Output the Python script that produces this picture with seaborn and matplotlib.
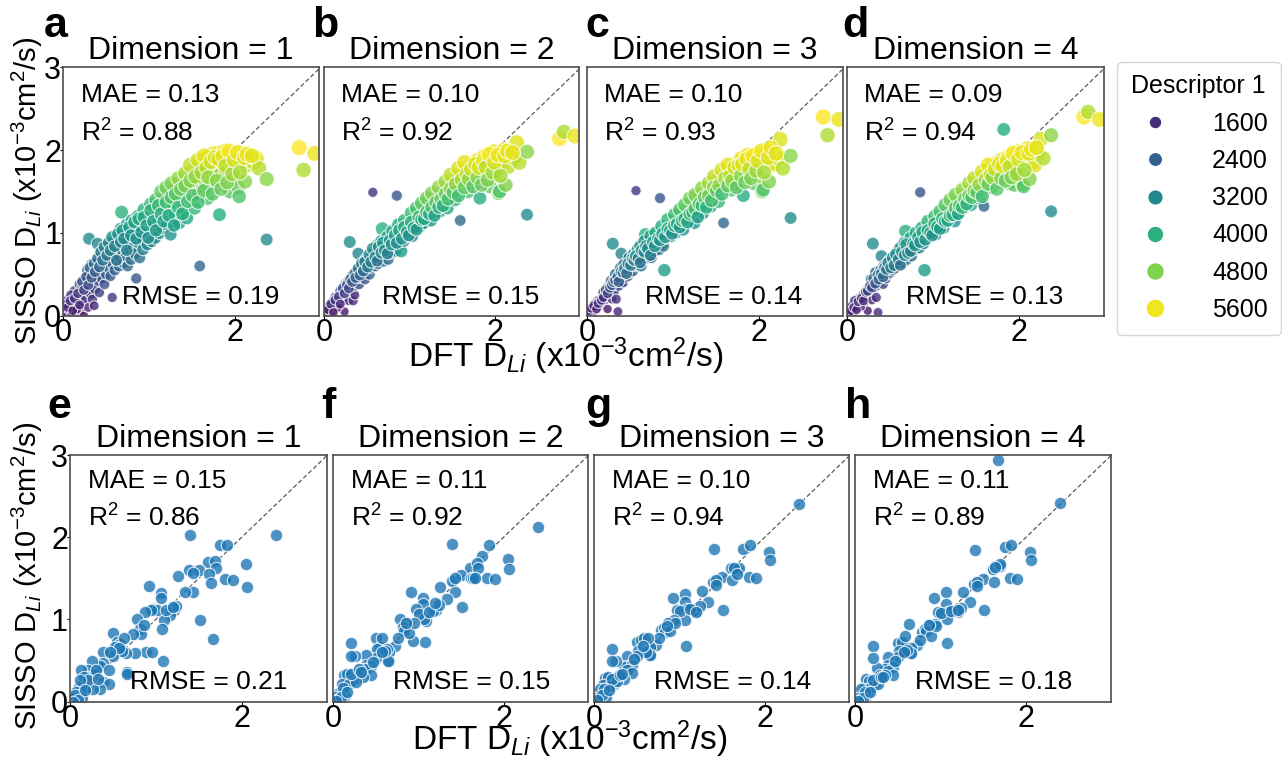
import numpy as np
import pandas as pd
import matplotlib
matplotlib.use("Agg")
import matplotlib.pyplot as plt
import seaborn as sns
from matplotlib.lines import Line2D

# ---------------- data: training set (top row) ----------------
dft_train = [0.02, 0.04, 0.05, 0.07, 0.08, 0.10, 0.11, 0.12, 0.14, 0.15, 0.17, 0.18, 0.20, 0.21, 0.23,
             0.24, 0.26, 0.27, 0.29, 0.30, 0.31, 0.32, 0.34, 0.36, 0.35, 0.37, 0.38, 0.40, 0.41, 0.42,
             0.44, 0.45, 0.47, 0.48, 0.50, 0.51, 0.53, 0.55, 0.56, 0.57, 0.58, 0.60, 0.61, 0.63, 0.64,
             0.65, 0.66, 0.68, 0.69, 0.70, 0.72, 0.73, 0.75, 0.76, 0.78, 0.79, 0.81, 0.82, 0.84, 0.85,
             0.86, 0.88, 0.89, 0.90, 0.92, 0.93, 0.95, 0.96, 0.98, 1.00, 1.01, 1.03, 1.04, 1.06, 1.07,
             1.09, 1.10, 1.12, 1.13, 1.15, 1.16, 1.18, 1.19, 1.21, 1.22, 1.24, 1.25, 1.27, 1.28, 1.30,
             1.32, 1.33, 1.35, 1.36, 1.38, 1.40, 1.41, 1.43, 1.44, 1.46, 1.47, 1.49, 1.50, 1.52, 1.53,
             1.55, 1.56, 1.58, 1.59, 1.60, 1.62, 1.63, 1.65, 1.66, 1.68, 1.70, 1.71, 1.73, 1.75, 1.76,
             1.78, 1.80, 1.82, 1.83, 1.85, 1.87, 1.88, 1.90, 1.92, 1.94, 1.96, 1.98, 2.00, 2.02, 2.04,
             2.05, 2.08, 2.10, 2.12, 2.15, 2.18, 2.22, 2.25, 2.28, 2.37, 2.37, 2.75, 2.80, 2.93,
             0.13, 0.19, 0.25, 0.28, 0.33, 0.39, 0.43, 0.49, 0.54, 0.59, 0.62, 0.67, 0.74, 0.80, 0.87,
             0.94, 1.02, 1.08, 1.14, 1.20, 1.26, 1.34, 1.42, 1.48, 1.57, 1.64, 0.06, 0.09, 0.16, 0.22, 0.03,
             0.05, 0.08, 0.11, 0.13, 0.17, 0.19, 0.22, 0.24, 0.27, 0.29, 0.31, 0.33, 0.36, 0.37, 0.40,
             0.42, 0.44, 0.46, 0.48, 0.51, 0.53, 0.55, 0.57, 0.60, 0.62, 0.64, 0.67, 0.69, 0.71, 0.74,
             0.77, 0.79, 0.83, 0.85, 0.88, 0.91, 0.94, 0.97, 0.99, 1.02, 1.05, 1.08, 1.11, 1.14, 1.17,
             1.20, 1.23, 1.26, 1.29, 1.31, 1.34, 1.37, 1.39, 1.42, 1.45, 1.48, 1.51, 1.54, 1.57, 1.61,
             1.64, 1.67, 1.69, 1.72, 1.74, 1.77, 1.79, 1.81, 1.84, 1.86, 1.89, 1.91, 1.93, 1.97, 1.99,
             2.03, 2.06, 2.11, 2.14, 2.20]

sisso_dim1 = [0.03, 0.08, 0.00, 0.12, 0.05, 0.02, 0.14, 0.08, 0.18, 0.03, 0.12, 0.22, 0.06, 0.16, 0.25,
              0.00, 0.20, 0.30, 0.10, 0.93, 0.35, 0.26, 0.20, 0.12, 0.40, 0.32, 0.50, 0.87, 0.42, 0.28,
              0.55, 0.45, 0.62, 0.38, 0.50, 0.66, 0.58, 0.48, 0.70, 0.22, 0.62, 0.55, 0.75, 0.66, 0.82,
              0.60, 0.70, 1.25, 0.78, 0.64, 0.86, 0.72, 0.60, 0.90, 0.80, 0.68, 0.96, 0.84, 0.75, 0.45,
              1.02, 0.88, 0.70, 1.08, 0.93, 0.80, 1.12, 0.98, 0.86, 1.16, 1.02, 0.90, 1.22, 1.06, 0.94,
              1.30, 1.12, 1.00, 1.36, 1.18, 1.06, 1.42, 1.24, 1.10, 1.48, 1.30, 0.98, 1.52, 1.36, 1.20,
              1.55, 1.40, 1.12, 1.60, 1.46, 1.28, 1.65, 1.50, 1.18, 1.70, 1.56, 1.40, 1.75, 1.62, 1.30,
              1.80, 1.66, 1.48, 0.60, 1.84, 1.70, 1.55, 1.88, 1.60, 1.42, 1.92, 1.76, 1.64, 1.96, 1.55,
              1.80, 1.96, 1.22, 1.70, 1.86, 1.98, 1.58, 1.74, 1.94, 1.50, 1.85, 1.96, 1.66, 1.92, 1.55,
              1.44, 1.88, 1.96, 1.62, 1.82, 1.92, 1.85, 1.90, 1.78, 1.65, 0.92, 2.03, 1.76, 1.96,
              0.30, 0.38, 0.45, 0.55, 0.62, 0.65, 0.74, 0.78, 0.85, 0.92, 0.96, 1.05, 1.10, 1.15, 1.20,
              1.28, 1.35, 1.40, 1.50, 1.55, 1.60, 1.66, 1.72, 1.82, 1.88, 1.93, 0.20, 0.25, 0.08, 0.34, 0.14,
              0.10, 0.18, 0.06, 0.21, 0.27, 0.13, 0.41, 0.31, 0.47, 0.37, 0.58, 0.46, 0.63, 0.53, 0.69,
              0.59, 0.77, 0.67, 0.83, 0.73, 0.88, 0.79, 0.95, 0.84, 0.67, 0.99, 0.89, 1.03, 0.93, 0.79,
              1.07, 0.97, 1.13, 0.93, 1.17, 1.01, 1.19, 1.09, 0.94, 1.27, 1.14, 1.03, 1.33, 1.23, 1.14,
              1.37, 1.21, 1.43, 1.09, 1.47, 1.31, 1.53, 1.23, 1.57, 1.38, 1.63, 1.45, 1.68, 1.37, 1.73,
              1.51, 1.79, 1.67, 1.86, 1.47, 1.91, 1.63, 1.89, 1.53, 1.93, 1.81, 1.61, 1.99, 1.71, 1.88,
              1.97, 1.73, 1.91, 1.95, 1.93]

sisso_dim2 = [0.02, 0.05, 0.03, 0.08, 0.10, 0.06, 0.12, 0.15, 0.13, 0.09, 0.18, 0.16, 0.20, 0.24, 0.21,
              0.05, 0.28, 0.25, 0.18, 0.89, 0.31, 0.35, 0.18, 0.25, 0.36, 0.40, 0.42, 0.75, 0.38, 0.45,
              0.47, 0.50, 0.52, 0.44, 0.55, 0.60, 0.50, 0.58, 0.62, 1.49, 0.66, 0.60, 0.68, 0.63, 0.72,
              0.70, 0.75, 1.05, 0.66, 0.72, 0.78, 0.80, 0.68, 0.83, 0.76, 0.82, 0.88, 0.85, 0.78, 1.45,
              0.92, 0.95, 0.86, 0.78, 1.00, 0.90, 1.04, 0.96, 1.02, 1.08, 1.00, 0.96, 1.12, 1.10, 1.05,
              1.18, 1.14, 1.08, 1.22, 1.20, 1.12, 1.28, 1.24, 1.18, 1.32, 1.28, 1.15, 1.36, 1.30, 1.25,
              1.42, 1.35, 1.26, 1.46, 1.40, 1.36, 1.50, 1.45, 1.30, 1.55, 1.52, 1.44, 1.60, 1.56, 1.40,
              1.65, 1.62, 1.52, 1.15, 1.70, 1.66, 1.58, 1.76, 1.62, 1.50, 1.80, 1.72, 1.68, 1.85, 1.60,
              1.76, 1.88, 1.42, 1.72, 1.82, 1.92, 1.62, 1.76, 1.90, 1.56, 1.82, 1.98, 1.70, 1.90, 1.48,
              1.50, 1.86, 2.00, 1.58, 1.80, 1.95, 1.90, 2.09, 1.85, 1.98, 1.22, 2.14, 2.22, 2.17,
              0.22, 0.30, 0.38, 0.40, 0.48, 0.55, 0.60, 0.68, 0.70, 0.78, 0.85, 0.90, 0.95, 1.02, 1.10,
              1.15, 1.24, 1.30, 1.36, 1.42, 1.48, 1.55, 1.62, 1.70, 1.78, 1.85, 0.12, 0.16, 0.10, 0.30, 0.08,
              0.07, 0.14, 0.04, 0.19, 0.23, 0.14, 0.33, 0.27, 0.37, 0.33, 0.44, 0.41, 0.51, 0.46, 0.57,
              0.49, 0.63, 0.54, 0.65, 0.59, 0.74, 0.65, 0.81, 0.71, 0.66, 0.83, 0.76, 0.88, 0.79, 0.75,
              0.91, 0.86, 0.97, 0.88, 1.03, 0.93, 1.07, 1.01, 0.97, 1.13, 1.06, 1.04, 1.19, 1.16, 1.17,
              1.25, 1.23, 1.31, 1.21, 1.37, 1.31, 1.41, 1.33, 1.47, 1.41, 1.53, 1.49, 1.59, 1.45, 1.64,
              1.55, 1.71, 1.65, 1.77, 1.56, 1.83, 1.67, 1.79, 1.58, 1.87, 1.79, 1.64, 1.95, 1.73, 1.85,
              1.94, 1.69, 1.93, 1.99, 1.97]

sisso_dim3 = [0.01, 0.04, 0.02, 0.07, 0.06, 0.10, 0.11, 0.13, 0.16, 0.12, 0.15, 0.20, 0.18, 0.22, 0.24,
              0.08, 0.26, 0.29, 0.20, 0.87, 0.33, 0.30, 0.20, 0.05, 0.38, 0.36, 0.45, 0.75, 0.41, 0.40,
              0.50, 0.46, 0.55, 0.48, 0.52, 0.58, 0.54, 0.60, 0.64, 1.51, 0.62, 0.66, 0.70, 0.60, 0.74,
              0.68, 0.72, 0.98, 0.70, 0.76, 0.80, 0.74, 0.70, 0.85, 0.82, 0.78, 0.86, 0.90, 0.80, 1.42,
              0.94, 0.88, 0.84, 0.55, 0.98, 0.94, 1.03, 1.00, 0.96, 1.08, 1.05, 1.00, 1.12, 1.06, 1.10,
              1.16, 1.14, 1.04, 1.24, 1.18, 1.20, 1.26, 1.22, 1.16, 1.34, 1.30, 1.12, 1.36, 1.28, 1.30,
              1.40, 1.38, 1.24, 1.48, 1.36, 1.40, 1.52, 1.46, 1.32, 1.56, 1.50, 1.48, 1.62, 1.55, 1.38,
              1.66, 1.60, 1.56, 1.12, 1.72, 1.68, 1.60, 1.76, 1.64, 1.52, 1.80, 1.74, 1.70, 1.84, 1.58,
              1.78, 1.90, 1.45, 1.76, 1.86, 1.94, 1.66, 1.70, 1.92, 1.60, 1.84, 1.96, 1.68, 1.95, 1.50,
              1.52, 1.88, 1.98, 1.62, 1.84, 1.83, 1.90, 2.13, 1.78, 1.93, 1.18, 2.40, 2.18, 2.37,
              0.18, 0.28, 0.35, 0.42, 0.50, 0.58, 0.62, 0.70, 0.74, 0.80, 0.84, 0.90, 0.96, 1.00, 1.08,
              1.16, 1.22, 1.28, 1.34, 1.42, 1.46, 1.54, 1.60, 1.68, 1.76, 1.82, 0.10, 0.14, 0.16, 0.26, 0.06,
              0.09, 0.12, 0.08, 0.15, 0.19, 0.22, 0.31, 0.27, 0.34, 0.37, 0.41, 0.43, 0.47, 0.41, 0.53,
              0.52, 0.57, 0.51, 0.63, 0.61, 0.69, 0.67, 0.72, 0.69, 0.64, 0.79, 0.77, 0.84, 0.81, 0.73,
              0.89, 0.84, 0.93, 0.91, 0.99, 0.95, 1.05, 1.03, 0.99, 1.09, 1.11, 1.07, 1.15, 1.17, 1.13,
              1.23, 1.25, 1.29, 1.19, 1.35, 1.33, 1.43, 1.31, 1.45, 1.39, 1.55, 1.51, 1.57, 1.47, 1.66,
              1.57, 1.69, 1.63, 1.79, 1.55, 1.81, 1.69, 1.83, 1.61, 1.89, 1.77, 1.66, 1.93, 1.75, 1.87,
              1.99, 1.73, 1.91, 2.03, 1.96]

sisso_dim4 = [0.02, 0.05, 0.01, 0.09, 0.04, 0.08, 0.13, 0.10, 0.15, 0.14, 0.20, 0.17, 0.16, 0.22, 0.25,
              0.06, 0.27, 0.30, 0.19, 0.87, 0.32, 0.34, 0.22, 0.04, 0.37, 0.40, 0.43, 0.72, 0.42, 0.38,
              0.48, 0.45, 0.54, 0.50, 0.52, 0.60, 0.55, 0.57, 0.63, 0.62, 0.65, 0.62, 0.70, 0.66, 0.75,
              0.64, 0.72, 1.02, 0.68, 0.74, 0.79, 0.77, 0.72, 0.84, 0.80, 0.83, 0.88, 0.86, 0.82, 1.49,
              0.93, 0.92, 0.87, 0.55, 0.97, 0.96, 1.02, 0.99, 1.04, 1.07, 1.02, 0.98, 1.10, 1.08, 1.12,
              1.18, 1.13, 1.06, 1.22, 1.20, 1.16, 1.28, 1.24, 1.20, 1.30, 1.27, 1.14, 1.36, 1.32, 1.25,
              1.40, 1.36, 1.30, 1.45, 1.40, 1.38, 1.50, 1.48, 1.34, 1.55, 1.52, 1.46, 1.60, 1.57, 1.42,
              1.64, 1.62, 1.54, 1.32, 1.70, 1.66, 1.58, 1.75, 1.68, 1.55, 1.80, 1.72, 1.66, 1.85, 1.62,
              1.78, 1.88, 2.25, 1.74, 1.84, 1.92, 1.60, 1.72, 1.95, 1.58, 1.86, 1.98, 1.72, 1.94, 1.58,
              1.56, 1.90, 2.02, 1.65, 1.85, 1.82, 1.95, 2.13, 1.90, 2.18, 1.26, 2.40, 2.46, 2.37,
              0.20, 0.25, 0.33, 0.44, 0.52, 0.55, 0.60, 0.66, 0.72, 0.78, 0.82, 0.88, 0.94, 1.00, 1.06,
              1.14, 1.20, 1.26, 1.34, 1.40, 1.46, 1.52, 1.60, 1.66, 1.74, 1.82, 0.12, 0.18, 0.11, 0.28, 0.05,
              0.06, 0.10, 0.07, 0.17, 0.21, 0.18, 0.29, 0.30, 0.36, 0.34, 0.45, 0.39, 0.49, 0.44, 0.51,
              0.47, 0.58, 0.56, 0.64, 0.58, 0.70, 0.61, 0.74, 0.68, 0.61, 0.77, 0.73, 0.86, 0.76, 0.78,
              0.87, 0.85, 0.95, 0.89, 1.01, 0.92, 1.03, 1.00, 0.97, 1.11, 1.07, 1.05, 1.17, 1.14, 1.15,
              1.21, 1.22, 1.30, 1.23, 1.33, 1.31, 1.41, 1.35, 1.45, 1.43, 1.51, 1.49, 1.58, 1.44, 1.64,
              1.59, 1.70, 1.67, 1.77, 1.53, 1.83, 1.66, 1.81, 1.63, 1.87, 1.80, 1.67, 1.96, 1.71, 1.89,
              1.97, 1.76, 1.96, 2.01, 2.03]

descriptor_1 = [1320, 1430, 1250, 1510, 1360, 1290, 1560, 1430, 1650, 1320, 1510, 1730, 1380, 1600, 1800,
                1250, 1690, 1910, 1470, 3300, 2020, 1820, 1690, 1510, 2130, 1950, 2350, 3160, 2170, 1870,
                2460, 2240, 2610, 2090, 2350, 2700, 2530, 2310, 2790, 1730, 2610, 2460, 2900, 2700, 3050,
                2570, 2790, 4000, 2970, 2660, 3140, 2830, 2570, 3230, 3010, 2750, 3360, 3100, 2900, 2240,
                3490, 3190, 2790, 3630, 3300, 3010, 3710, 3410, 3140, 3800, 3490, 3230, 3930, 3580, 3320,
                4110, 3710, 3450, 4240, 3850, 3580, 4370, 3980, 3670, 4510, 4110, 3410, 4590, 4240, 3890,
                4660, 4330, 3710, 4770, 4460, 4070, 4880, 4550, 3850, 4990, 4680, 4330, 5100, 4810, 4110,
                5210, 4900, 4510, 2570, 5300, 4990, 4660, 5390, 4770, 4370, 5470, 5120, 4860, 5560, 4660,
                5210, 5560, 3930, 4990, 5340, 5610, 4730, 5080, 5520, 4550, 5320, 5560, 4900, 5470, 4660,
                4420, 5390, 5560, 4810, 5250, 5470, 5320, 5430, 5170, 4880, 3270, 5720, 5120, 5560,
                1910, 2090, 2240, 2460, 2610, 2680, 2880, 2970, 3120, 3270, 3360, 3560, 3670, 3780, 3890,
                4070, 4220, 4330, 4550, 4660, 4770, 4900, 5030, 5250, 5390, 5500, 1690, 1800, 1430, 2000, 1560,
                1470, 1650, 1380, 1710, 1840, 1540, 2150, 1930, 2280, 2060, 2530, 2260, 2640, 2420, 2770,
                2550, 2940, 2720, 3080, 2860, 3190, 2990, 3340, 3100, 2720, 3430, 3210, 3520, 3300, 2990,
                3600, 3380, 3740, 3300, 3820, 3470, 3870, 3650, 3320, 4040, 3760, 3520, 4180, 3960, 3760,
                4260, 3910, 4400, 3650, 4480, 4130, 4620, 3960, 4700, 4290, 4840, 4440, 4950, 4260, 5060,
                4570, 5190, 4920, 5340, 4480, 5450, 4840, 5410, 4620, 5500, 5230, 4790, 5630, 5010, 5390,
                5580, 5060, 5450, 5540, 5500]

# ---------------- data: test set (bottom row) ----------------
dft_test = [2.40, 1.40, 1.75, 1.83, 2.05, 2.06, 1.81, 1.90, 1.61, 1.69, 1.70, 1.39, 1.50, 1.43, 1.62,
            1.64, 1.43, 1.34, 1.26, 1.51, 1.67, 1.21, 1.17, 1.24, 1.06, 1.06, 1.09, 1.08, 1.07, 0.92,
            0.97, 1.01, 0.94, 0.87, 0.78, 0.82, 0.83, 0.73, 0.89, 0.95, 0.76, 0.66, 0.66, 0.50, 0.55,
            0.58, 0.63, 0.52, 0.65, 0.61, 0.50, 0.39, 0.39, 0.35, 0.45, 0.26, 0.21, 0.21, 0.29, 0.13,
            0.16, 0.23, 0.39, 0.45, 0.35, 0.10, 0.07, 0.12, 0.04, 0.14, 0.19, 0.27, 0.21, 0.12, 0.06,
            0.09, 0.30, 0.57, 0.86, 1.12, 1.20, 0.47, 0.33, 0.17, 0.03]

test_dim1 = [2.03, 2.03, 1.90, 1.90, 1.68, 1.39, 1.49, 1.48, 1.70, 1.71, 1.63, 1.60, 1.60, 1.56, 1.55,
             1.44, 1.34, 1.33, 1.53, 0.99, 0.76, 1.11, 1.05, 1.16, 1.32, 1.26, 0.99, 0.49, 0.89, 1.41,
             1.13, 1.11, 1.11, 1.09, 1.01, 0.89, 0.82, 0.82, 0.61, 0.60, 0.59, 0.36, 0.34, 0.84, 0.73,
             0.70, 0.77, 0.67, 0.59, 0.62, 0.55, 0.60, 0.47, 0.43, 0.39, 0.49, 0.38, 0.30, 0.34, 0.39,
             0.30, 0.24, 0.24, 0.22, 0.16, 0.18, 0.12, 0.08, 0.04, 0.04, 0.18, 0.16, 0.26, 0.26, 0.08,
             0.02, 0.38, 0.65, 0.93, 1.12, 1.15, 0.60, 0.28, 0.14, 0.00]

test_dim2 = [2.13, 1.92, 1.77, 1.91, 1.73, 1.61, 1.51, 1.49, 1.63, 1.69, 1.62, 1.47, 1.54, 1.50, 1.51,
             1.50, 1.33, 1.25, 1.39, 1.15, 1.50, 1.12, 1.10, 1.18, 1.26, 1.19, 0.98, 0.73, 1.00, 1.33,
             1.13, 1.07, 0.74, 0.96, 1.01, 0.91, 0.86, 0.68, 0.84, 0.96, 0.77, 0.49, 0.60, 0.78, 0.67,
             0.77, 0.64, 0.64, 0.49, 0.62, 0.53, 0.57, 0.45, 0.40, 0.43, 0.56, 0.71, 0.56, 0.30, 0.32,
             0.34, 0.26, 0.40, 0.33, 0.30, 0.21, 0.10, 0.11, 0.06, 0.08, 0.21, 0.24, 0.34, 0.17, 0.03,
             0.06, 0.40, 0.60, 0.96, 1.09, 1.20, 0.48, 0.36, 0.12, 0.01]

test_dim3 = [2.41, 1.86, 1.86, 1.91, 1.82, 1.72, 1.52, 1.50, 1.63, 1.60, 1.63, 1.46, 1.52, 1.48, 1.48,
             1.63, 1.42, 1.21, 1.35, 1.11, 1.55, 1.10, 1.12, 1.16, 1.31, 1.21, 1.13, 0.68, 0.99, 1.26,
             1.11, 1.10, 0.99, 0.96, 0.87, 0.90, 0.85, 0.69, 0.86, 0.96, 0.78, 0.57, 0.66, 0.72, 0.75,
             0.77, 0.77, 0.62, 0.57, 0.60, 0.55, 0.55, 0.43, 0.42, 0.45, 0.49, 0.64, 0.49, 0.33, 0.29,
             0.30, 0.22, 0.38, 0.35, 0.28, 0.20, 0.16, 0.09, 0.05, 0.06, 0.19, 0.25, 0.28, 0.15, 0.02,
             0.08, 0.33, 0.68, 0.92, 1.13, 1.09, 0.52, 0.34, 0.14, 0.02]

test_dim4 = [2.42, 1.85, 1.88, 1.90, 1.82, 1.72, 1.51, 1.49, 1.61, 1.65, 1.68, 1.43, 1.49, 1.46, 1.46,
             1.64, 1.41, 1.21, 1.34, 1.11, 2.94, 1.09, 1.10, 1.14, 1.34, 1.19, 1.09, 0.71, 1.00, 1.26,
             1.09, 1.08, 0.95, 0.93, 0.85, 0.88, 0.86, 0.69, 0.80, 0.92, 0.75, 0.59, 0.65, 0.71, 0.73,
             0.80, 0.95, 0.62, 0.59, 0.63, 0.54, 0.54, 0.45, 0.40, 0.42, 0.41, 0.68, 0.53, 0.33, 0.28,
             0.25, 0.22, 0.37, 0.33, 0.33, 0.16, 0.16, 0.06, 0.04, 0.10, 0.18, 0.22, 0.26, 0.12, 0.02,
             0.05, 0.30, 0.60, 0.93, 1.10, 1.12, 0.50, 0.30, 0.12, 0.01]

titles = ["Dimension = 1", "Dimension = 2", "Dimension = 3", "Dimension = 4"]
letters_top = ["a", "b", "c", "d"]
letters_bottom = ["e", "f", "g", "h"]
mae_top = ["0.13", "0.10", "0.10", "0.09"]
r2_top = ["0.88", "0.92", "0.93", "0.94"]
rmse_top = ["0.19", "0.15", "0.14", "0.13"]
mae_bottom = ["0.15", "0.11", "0.10", "0.11"]
r2_bottom = ["0.86", "0.92", "0.94", "0.89"]
rmse_bottom = ["0.21", "0.15", "0.14", "0.18"]
legend_levels = [1600, 2400, 3200, 4000, 4800, 5600]

# ---------------- style ----------------
plt.rcParams["font.family"] = ["Liberation Sans", "DejaVu Sans"]
plt.rcParams["mathtext.fontset"] = "custom"
plt.rcParams["mathtext.rm"] = "Liberation Sans"
plt.rcParams["mathtext.it"] = "Liberation Sans:italic"
plt.rcParams["mathtext.bf"] = "Liberation Sans:bold"
plt.rcParams["axes.unicode_minus"] = True

W, H = 1282, 759
fig = plt.figure(figsize=(W / 100, H / 100), dpi=100)

def px_axes(x0, y0, x1, y1):
    return fig.add_axes([x0 / W, 1 - y1 / H, (x1 - x0) / W, (y1 - y0) / H])

top_boxes = [(63.3, 67.3, 319.0, 315.7), (324.0, 67.3, 579.3, 315.7),
             (587.0, 67.3, 843.0, 315.7), (847.0, 67.3, 1103.7, 315.7)]
bot_boxes = [(70.0, 455.0, 326.7, 701.7), (333.0, 455.0, 588.0, 701.7),
             (594.0, 455.0, 849.3, 701.7), (855.0, 455.0, 1110.7, 701.7)]

df_train = pd.DataFrame({"DFT": dft_train, "Dimension 1": sisso_dim1, "Dimension 2": sisso_dim2,
                         "Dimension 3": sisso_dim3, "Dimension 4": sisso_dim4,
                         "Descriptor 1": descriptor_1})
df_test = pd.DataFrame({"DFT": dft_test, "Dimension 1": test_dim1, "Dimension 2": test_dim2,
                        "Dimension 3": test_dim3, "Dimension 4": test_dim4})

hue_norm = (1000, 5700)
sizes = (40, 135)
tick_fs = 22
cols = ["Dimension 1", "Dimension 2", "Dimension 3", "Dimension 4"]

def style_ax(ax, first, xmax):
    ax.plot([0, 3], [0, 3], ls=(0, (3.5, 2)), color="0.35", lw=0.9, zorder=1)
    ax.set_xlim(0, xmax)
    ax.set_ylim(0, 3)
    ax.set_xticks([0, 2])
    ax.set_xticklabels(["0", "2"])
    ax.set_yticks([0, 1, 2, 3])
    ax.tick_params(axis="x", labelsize=tick_fs, length=2.5, pad=-0.6)
    if first:
        ax.tick_params(axis="y", labelsize=tick_fs, length=2.5, pad=-1.0)
    else:
        ax.tick_params(axis="y", left=False, labelleft=False)
    ax.set_xlabel("")
    ax.set_ylabel("")
    for s in ax.spines.values():
        s.set_color("0.3")
        s.set_linewidth(1.2)

def metrics(ax, mae, r2, rmse, y_mae, y_r2, x_l, y_rm, x_rm):
    ax.text(x_l, y_mae, f"MAE = {mae}", transform=ax.transAxes, fontsize=19, va="baseline")
    ax.text(x_l, y_r2, f"R$^2$ = {r2}", transform=ax.transAxes, fontsize=19, va="baseline")
    ax.text(x_rm, y_rm, f"RMSE = {rmse}", transform=ax.transAxes, fontsize=19, va="baseline")

for i, box in enumerate(top_boxes):
    ax = px_axes(*box)
    sns.scatterplot(data=df_train, x="DFT", y=cols[i], hue="Descriptor 1", size="Descriptor 1",
                    palette="viridis", hue_norm=hue_norm, size_norm=hue_norm, sizes=sizes,
                    alpha=0.8, edgecolor="white", linewidth=0.8, legend=False, ax=ax, zorder=2)
    style_ax(ax, i == 0, 2.98)
    ax.set_title(titles[i], fontsize=23, pad=5.8)
    metrics(ax, mae_top[i], r2_top[i], rmse_top[i], 0.860, 0.699, 0.068, 0.047, 0.228)

for i, box in enumerate(bot_boxes):
    ax = px_axes(*box)
    sns.scatterplot(data=df_test, x="DFT", y=cols[i], color="#1f77b4", s=80,
                    alpha=0.8, edgecolor="white", linewidth=0.8, legend=False, ax=ax, zorder=2)
    style_ax(ax, i == 0, 2.99)
    ax.set_title(titles[i], fontsize=23, pad=5.8)
    metrics(ax, mae_bottom[i], r2_bottom[i], rmse_bottom[i], 0.865, 0.709, 0.072, 0.050, 0.235)

ylab = "SISSO D$_{Li}$ (x10$^{-3}$cm$^{2}$/s)"
xlab = "DFT D$_{Li}$ (x10$^{-3}$cm$^{2}$/s)"
fig.text(27 / W, 1 - 191 / H, ylab, rotation=90, ha="center", va="center", fontsize=21)
fig.text(27 / W, 1 - 576 / H, ylab, rotation=90, ha="center", va="center", fontsize=21)
fig.text(566 / W, 1 - 367.5 / H, xlab, ha="center", va="baseline", fontsize=24)
fig.text(570 / W, 1 - 750 / H, xlab, ha="center", va="baseline", fontsize=24)

for lt, xp in zip(letters_top, [44, 312, 585, 842]):
    fig.text(xp / W, 1 - 37 / H, lt, fontsize=31, fontweight="bold", va="baseline")
for lt, xp in zip(letters_bottom, [47, 321, 585, 845]):
    fig.text(xp / W, 1 - 418 / H, lt, fontsize=31, fontweight="bold", va="baseline")

# legend (single, for the colour/size mapping of Descriptor 1)
cmap = sns.color_palette("viridis", as_cmap=True)
norm = matplotlib.colors.Normalize(*hue_norm)
handles = []
for v in legend_levels:
    frac = norm(v)
    s = sizes[0] + frac * (sizes[1] - sizes[0])
    c = cmap(frac)
    handles.append(Line2D([], [], ls="", marker="o", markersize=np.sqrt(s),
                          markerfacecolor=c, markeredgecolor=c))
fig.legend(handles, [str(v) for v in legend_levels], title="Descriptor 1",
           loc="upper left", bbox_to_anchor=(1117 / W, 1 - 62 / H), borderaxespad=0,
           fontsize=18, title_fontsize=18, handletextpad=1.3, labelspacing=0.53,
           borderpad=0.5, frameon=True)

fig.savefig("out.png", dpi=100)
